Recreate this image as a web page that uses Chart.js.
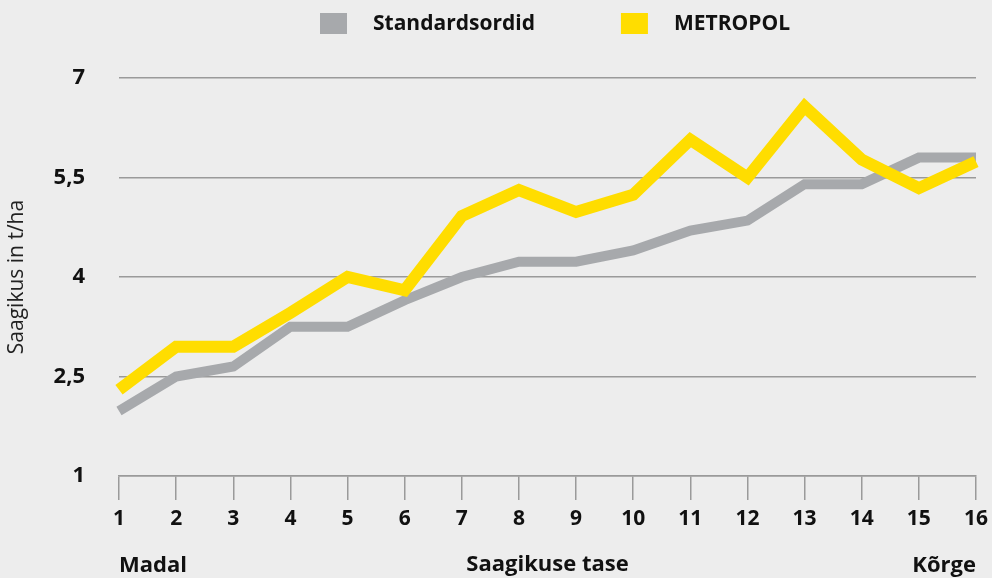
<!DOCTYPE html>
<html lang="et">
<head>
<meta charset="utf-8">
<script src="https://cdn.jsdelivr.net/npm/chart.js@4.4.1/dist/chart.umd.min.js"></script>
<style>
  html, body { margin: 0; padding: 0; background: #ededed; }
  #wrap { position: relative; width: 992px; height: 578px; }
</style>
</head>
<body>
<div id="wrap"><canvas id="chart"></canvas></div>
<script>
const levels = ["1", "2", "3", "4", "5", "6", "7", "8", "9", "10", "11", "12", "13", "14", "15", "16"];
const standardValues = [1.98, 2.5, 2.65, 3.25, 3.25, 3.65, 4.0, 4.23, 4.23, 4.4, 4.7, 4.85, 5.4, 5.4, 5.8, 5.8];
const metropolValues = [2.3, 2.95, 2.95, 3.46, 4.0, 3.8, 4.92, 5.31, 4.98, 5.24, 6.07, 5.5, 6.57, 5.77, 5.34, 5.74];
const yTicks = [1, 2.5, 4, 5.5, 7];
const seriesNames = ["Standardsordid", "METROPOL"];
const endLabels = ["Madal", "Kõrge"];

const GREY = "#a7a9ac";
const YELLOW = "#ffdd00";
const TEXT = "#111111";
const FONT = "'Open Sans', 'Noto Sans', sans-serif";

// legend + Madal/Kõrge drawn by hand, the built-in legend can't space it like this
const extraText = {
  id: "extraText",
  afterDraw(chart) {
    const ctx = chart.ctx;
    const area = chart.chartArea;
    ctx.save();
    ctx.font = "bold 21px " + FONT;
    ctx.textBaseline = "middle";
    ctx.fillStyle = TEXT;

    let x = 320;
    chart.data.datasets.forEach(ds => {
      ctx.fillStyle = ds.borderColor;
      ctx.fillRect(x, 13, 27, 21);
      ctx.fillStyle = TEXT;
      ctx.textAlign = "left";
      ctx.fillText(ds.label, x + 53, 24);
      x += 53 + ctx.measureText(ds.label).width + 86;
    });

    ctx.font = "bold 22px " + FONT;
    ctx.textAlign = "left";
    ctx.fillText(endLabels[0], area.left, 566);
    ctx.textAlign = "right";
    ctx.fillText(endLabels[1], area.right, 566);
    ctx.restore();
  }
};

new Chart(document.getElementById("chart"), {
  type: "line",
  data: {
    labels: levels,
    datasets: [
      {
        label: seriesNames[0],
        data: standardValues,
        borderColor: GREY,
        backgroundColor: GREY,
        borderWidth: 10,
        borderCapStyle: "butt",
        borderJoinStyle: "miter",
        pointRadius: 0,
        tension: 0,
        order: 2
      },
      {
        label: seriesNames[1],
        data: metropolValues,
        borderColor: YELLOW,
        backgroundColor: YELLOW,
        borderWidth: 12,
        borderCapStyle: "butt",
        borderJoinStyle: "miter",
        pointRadius: 0,
        tension: 0,
        order: 1
      }
    ]
  },
  options: {
    responsive: true,
    maintainAspectRatio: false,
    animation: false,
    layout: {
      padding: { top: 78, right: 16, bottom: 0, left: 0 }
    },
    plugins: {
      legend: { display: false },
      tooltip: { enabled: false }
    },
    scales: {
      x: {
        offset: false,
        border: { display: true, color: "#9a9a9a", width: 1.5 },
        grid: {
          drawOnChartArea: false,
          drawTicks: true,
          tickLength: 24,
          color: "#9a9a9a",
          lineWidth: 1.5
        },
        ticks: {
          color: TEXT,
          font: { family: FONT, size: 21, weight: "bold" },
          padding: 6,
          maxRotation: 0
        },
        title: {
          display: true,
          text: "Saagikuse tase",
          color: TEXT,
          font: { family: FONT, size: 22, weight: "bold" },
          padding: { top: 14, bottom: 0 }
        },
        afterFit(scale) {
          scale.height = 102;
          scale.paddingLeft = 0;
          scale.paddingRight = 0;
        }
      },
      y: {
        min: 1,
        max: 7,
        afterBuildTicks(scale) {
          scale.ticks = yTicks.map(v => ({ value: v }));
        },
        border: { display: false },
        grid: {
          drawTicks: false,
          color: "#9a9a9a",
          lineWidth: 1.5
        },
        ticks: {
          color: TEXT,
          font: { family: FONT, size: 22, weight: "bold" },
          padding: 34,
          callback: v => String(v).replace(".", ",")
        },
        title: {
          display: true,
          text: "Saagikus in t/ha",
          color: "#222222",
          font: { family: FONT, size: 21 },
          padding: { top: 4, bottom: 0 }
        },
        afterFit(scale) { scale.width = 119; }
      }
    }
  },
  plugins: [extraText]
});
</script>
</body>
</html>
